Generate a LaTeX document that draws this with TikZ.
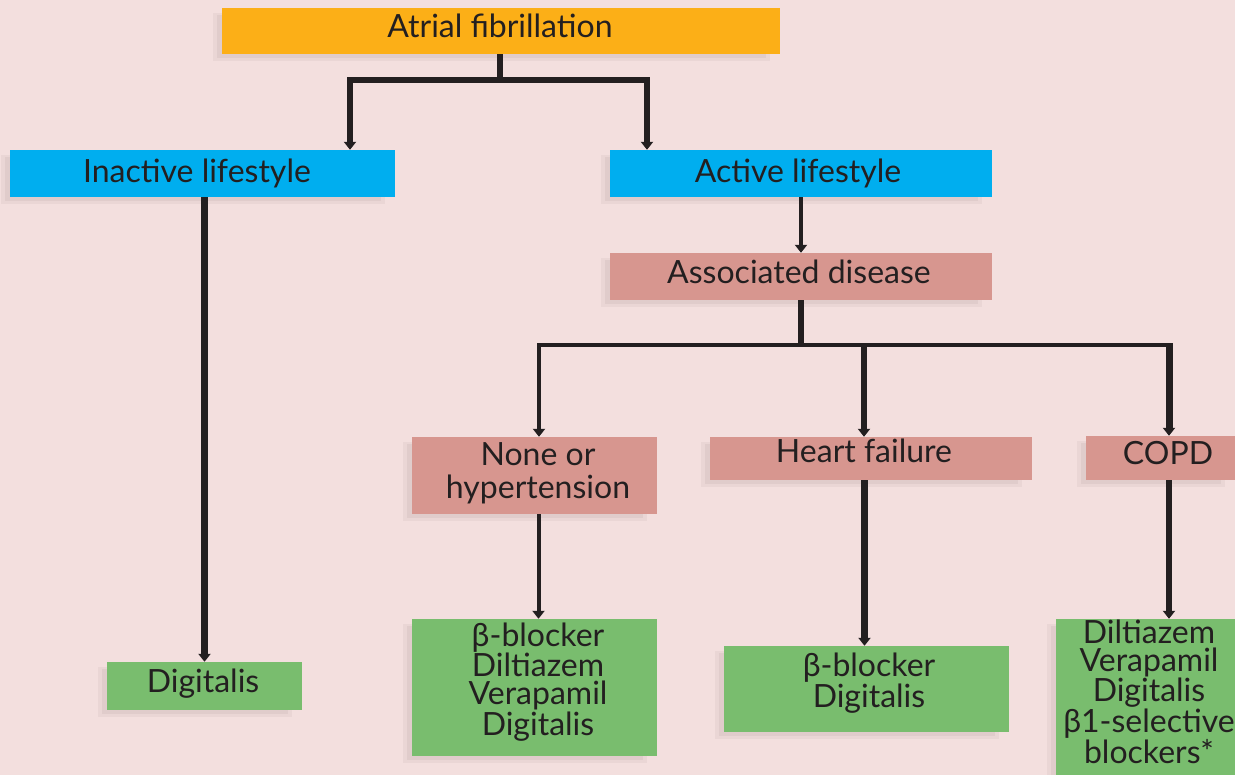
\documentclass[tikz,border=0pt]{standalone}
\usepackage{fontspec}
\setmainfont{Lato}
\usetikzlibrary{arrows.meta}
\definecolor{bg}{HTML}{F3DFDE}
\definecolor{orangebox}{HTML}{FCAF17}
\definecolor{cyanbox}{HTML}{00AEEF}
\definecolor{pinkbox}{HTML}{D7968F}
\definecolor{greenbox}{HTML}{79BD6E}
\definecolor{ink}{HTML}{231F20}
\definecolor{shadowa}{HTML}{EAD6D5}
\definecolor{shadowb}{HTML}{E0CCCB}
\tikzset{
  box/.style={rectangle, inner sep=0pt, draw=none},
  obox/.style={box, fill=orangebox},
  cbox/.style={box, fill=cyanbox},
  pbox/.style={box, fill=pinkbox},
  gbox/.style={box, fill=greenbox},
  txt/.style={inner sep=0pt, text=ink, align=center, anchor=base,
    font=\fontsize{32}{28.5}\selectfont},
  conn/.style={draw=ink, line join=miter},
  arr/.style={conn, -{Triangle[width=12pt,length=8pt]}},
}
\begin{document}
\begin{tikzpicture}[x=1pt,y=-1pt]
\fill[bg] (0,0) rectangle (1235,775);
\useasboundingbox (0,0) rectangle (1235,775);

% soft shadows (offset left and down)
\foreach \xa/\ya/\xb/\yb in {222/8/780/54, 10/150/395/197, 610/150/992/197, 610/253/992/300,
  412/437/657/514, 710/437/1032/480, 1086/436/1235/480, 107/662/302/710,
  412/619/657/756, 724/646/1009/732, 1056/619/1235/775}
{
  \fill[shadowa] (\xa-9,\ya+5) rectangle (\xb-10,\yb+7);
  \fill[shadowb] (\xa-5,\ya+7) rectangle (\xb-14,\yb+4);
}

% boxes
\node[obox, minimum width=558pt, minimum height=46pt] (af) at (501,31) {};
\node[cbox, minimum width=385pt, minimum height=47pt] (inact) at (202.5,173.5) {};
\node[cbox, minimum width=382pt, minimum height=47pt] (act) at (801,173.5) {};
\node[pbox, minimum width=382pt, minimum height=47pt] (assoc) at (801,276.5) {};
\node[pbox, minimum width=245pt, minimum height=77pt] (none) at (534.5,475.5) {};
\node[pbox, minimum width=322pt, minimum height=43pt] (hf) at (871,458.5) {};
\node[pbox, minimum width=149pt, minimum height=44pt] (copd) at (1160.5,458) {};
\node[gbox, minimum width=195pt, minimum height=48pt] (dig) at (204.5,686) {};
\node[gbox, minimum width=245pt, minimum height=137pt] (gnone) at (534.5,687.5) {};
\node[gbox, minimum width=285pt, minimum height=86pt] (ghf) at (866.5,689) {};
\node[gbox, minimum width=179pt, minimum height=156pt] (gcopd) at (1145.5,697) {};

% texts (base anchor = baseline of last line)
\node[txt] (taf) at (500,37.5) {Atrial fibrillation};
\node[txt] (tinact) at (197,183) {Inactive lifestyle};
\node[txt] (tact) at (798,183) {Active lifestyle};
\node[txt] (tassoc) at (799,284) {Associated disease};
\node[txt, font=\fontsize{32}{33}\selectfont] (tnone) at (538,499) {None or\\hypertension};
\node[txt] (thf) at (864,463) {Heart failure};
\node[txt] (tcopd) at (1168,465) {COPD};
\node[txt] (tdig) at (203,692) {Digitalis};
\node[txt] (tgnone) at (538,735) {β-blocker\\Diltiazem\\Verapamil\\Digitalis};
\node[txt] (tghf) at (869,707) {β-blocker\\Digitalis};
\node[txt] (tgcopd) at (1149,763) {Diltiazem\\Verapamil\\Digitalis\\β1-selective\\blockers*};

% connectors: top level
\draw[conn, line width=6pt] ([xshift=-1pt]af.south) -- ++(0,26) coordinate (j1);
\draw[arr, line width=5.5pt] (j1) -| ([xshift=147.5pt]inact.north);
\draw[arr, line width=5.5pt] (j1) -| ([xshift=-154pt]act.north);

% inactive -> digitalis
\draw[arr, line width=7pt] (dig.north |- inact.south) -- (dig.north);

% active -> associated
\draw[arr, line width=3.5pt] (act.south) -- (assoc.north);

% associated -> diseases
\draw[conn, line width=6pt] (assoc.south) -- ++(0,45) coordinate (j2);
\draw[conn, line width=4pt, line cap=rect] ([xshift=4.5pt]none.north |- j2) -- ([xshift=8.5pt]copd.north |- j2);
\draw[arr, line width=4.5pt] ([xshift=4.5pt,yshift=2pt]none.north |- j2) -- ([xshift=4.5pt]none.north);
\draw[arr, line width=6.5pt] ([xshift=-7pt,yshift=2pt]hf.north |- j2) -- ([xshift=-7pt]hf.north);
\draw[arr, line width=7pt] ([xshift=8.5pt,yshift=2pt]copd.north |- j2) -- ([xshift=8.5pt]copd.north);

% diseases -> treatments
\draw[arr, line width=4pt] ([xshift=4pt]none.south) -- ([xshift=4pt]gnone.north);
\draw[arr, line width=6.8pt] ([xshift=-2pt]ghf.north |- hf.south) -- ([xshift=-2pt]ghf.north);
\draw[arr, line width=6.8pt] ([xshift=23.5pt]gcopd.north |- copd.south) -- ([xshift=23.5pt]gcopd.north);
\end{tikzpicture}
\end{document}
